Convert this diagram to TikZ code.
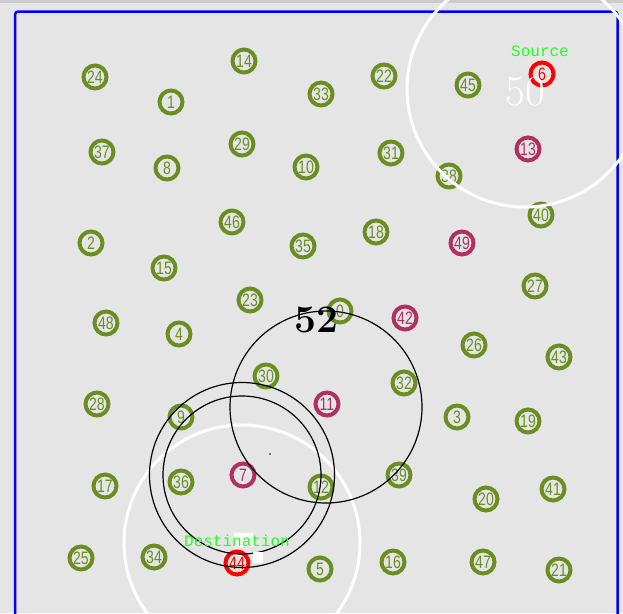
\documentclass[tikz,border=0pt]{standalone}
\usepackage{fontspec}
\usepackage{graphicx}
\newfontfamily\numfam{Liberation Sans}
\newfontfamily\labfam{Liberation Mono}
\definecolor{bgc}{HTML}{E5E5E5}
\definecolor{olivec}{HTML}{6B8E23}
\definecolor{maroonc}{HTML}{B03060}
\definecolor{redc}{HTML}{FF0000}
\definecolor{labgreen}{HTML}{22FF22}
\definecolor{framec}{HTML}{0000FF}
\tikzset{
  nd/.style={circle, draw=#1, line width=4pt, minimum size=23pt, inner sep=0pt,
    text=#1, font=\numfam\fontsize{18}{18}\selectfont},
  blackring/.style={draw=black, line width=1.2pt},
  whitering/.style={draw=white, line width=3pt},
  lab/.style={text=labgreen, font=\labfam\fontsize{16}{16}\selectfont, inner sep=0pt},
  big/.style={font=\fontsize{43}{43}\selectfont, inner sep=0pt},
  bigbold/.style={font=\fontsize{39}{39}\selectfont\bfseries, inner sep=0pt}
}
\newcommand\mynode[4]{\node[nd=#4] (n#1) at (#2,#3) {\scalebox{0.78}[1]{#1}};}
\begin{document}
\begin{tikzpicture}[x=1pt,y=-1pt]
\useasboundingbox (0,0) rectangle (623,613);
\clip (0,0) rectangle (623,613);
\fill[bgc] (0,0) rectangle (623,613);
\fill[black!20] (0,0) rectangle (623,3);
% frame
\draw[framec, line width=2.5pt, rounded corners=3pt] (15,640) -- (15,11.5) -- (617.5,11.5) -- (617.5,640);
% nodes
\mynode{0}{340}{311}{olivec}
\mynode{1}{171}{102}{olivec}
\mynode{2}{91}{243}{olivec}
\mynode{3}{457}{417}{olivec}
\mynode{4}{179}{334}{olivec}
\mynode{5}{320}{569}{olivec}
\mynode{6}{542}{74}{redc}
\mynode{7}{243}{475}{maroonc}
\mynode{8}{167}{168}{olivec}
\mynode{9}{181}{417}{olivec}
\mynode{10}{306}{167}{olivec}
\mynode{11}{327}{404}{maroonc}
\mynode{12}{321}{487}{olivec}
\mynode{13}{528}{149}{maroonc}
\mynode{14}{244}{61}{olivec}
\mynode{15}{164}{268}{olivec}
\mynode{16}{393}{562}{olivec}
\mynode{17}{105}{486}{olivec}
\mynode{18}{376}{232}{olivec}
\mynode{19}{528}{421}{olivec}
\mynode{20}{486}{499}{olivec}
\mynode{21}{559}{570}{olivec}
\mynode{22}{384}{76}{olivec}
\mynode{23}{250}{300}{olivec}
\mynode{24}{95}{77}{olivec}
\mynode{25}{81}{558}{olivec}
\mynode{26}{474}{345}{olivec}
\mynode{27}{535}{286}{olivec}
\mynode{28}{97}{404}{olivec}
\mynode{29}{242}{144}{olivec}
\mynode{30}{266}{376}{olivec}
\mynode{31}{391}{153}{olivec}
\mynode{32}{404}{383}{olivec}
\mynode{33}{321}{94}{olivec}
\mynode{34}{154}{557}{olivec}
\mynode{35}{303}{246}{olivec}
\mynode{36}{181}{482}{olivec}
\mynode{37}{102}{152}{olivec}
\mynode{38}{449}{176}{olivec}
\mynode{39}{399}{475}{olivec}
\mynode{40}{541}{215}{olivec}
\mynode{41}{553}{489}{olivec}
\mynode{42}{405}{318}{maroonc}
\mynode{43}{559}{357}{olivec}
\mynode{44}{237}{563}{redc}
\mynode{45}{468}{85}{olivec}
\mynode{46}{232}{222}{olivec}
\mynode{47}{483}{562}{olivec}
\mynode{48}{106}{323}{olivec}
\mynode{49}{462}{243}{maroonc}
% ranges
\draw[whitering] (525,89) circle[radius=118];
\draw[whitering] (242,543) circle[radius=118];
\draw[blackring] (326,407) circle[radius=96];
\draw[blackring] (242,475) circle[radius=92.5];
\draw[blackring] (242,475) circle[radius=79];
\fill[black] (270,454) circle[radius=0.8];
% big labels
\node[big, text=white] (t50) at (525,92) {50};
\node[bigbold, text=black] (t52) at (316,320) {52};
% small labels
\fill[white] (234,533) rectangle (253,547);
\fill[white] (253,552) rectangle (263,563);
\node[lab] (src) at (540,51) {Source};
\node[lab] (dst) at (237,541) {Destination};
\end{tikzpicture}
\end{document}
